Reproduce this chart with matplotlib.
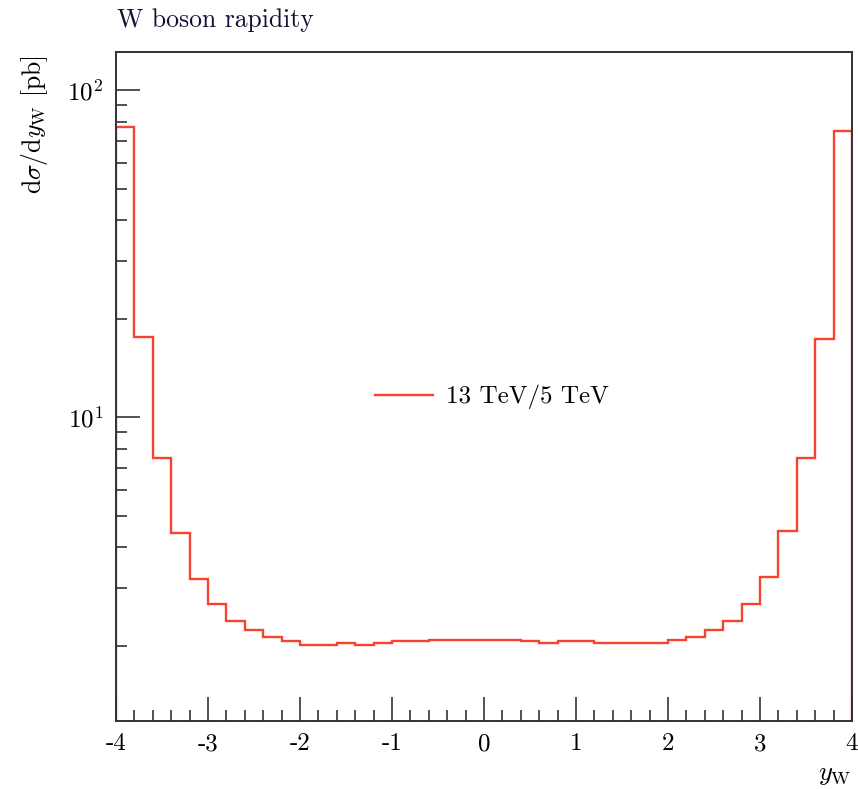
import numpy as np
import matplotlib
matplotlib.use('Agg')
import matplotlib.pyplot as plt
from matplotlib.ticker import FixedLocator, LogLocator, NullFormatter

plt.rcParams['font.family'] = 'serif'
plt.rcParams['font.serif'] = ['cmr10', 'DejaVu Serif']
plt.rcParams['mathtext.fontset'] = 'cm'
plt.rcParams['axes.unicode_minus'] = False
plt.rcParams['axes.formatter.use_mathtext'] = True

# W rapidity ratio, 40 bins of 0.2 from -4 to 4
bin_edges = np.round(np.arange(-4.0, 4.0001, 0.2), 1)
ratio = [77.0, 17.6, 7.5, 4.43, 3.21, 2.68, 2.38, 2.23, 2.12, 2.07,
         2.01, 2.01, 2.04, 2.01, 2.04, 2.07, 2.07, 2.09, 2.09, 2.09,
         2.09, 2.09, 2.07, 2.04, 2.07, 2.07, 2.04, 2.04, 2.04, 2.04,
         2.09, 2.12, 2.23, 2.38, 2.68, 3.25, 4.48, 7.5, 17.4, 75.0]
xticks = [-4, -3, -2, -1, 0, 1, 2, 3, 4]
xtick_labels = ['-4', '-3', '-2', '-1', '0', '1', '2', '3', '4']

fig = plt.figure(figsize=(8.58, 7.89), dpi=100)
ax = fig.add_axes([0.1352, 0.0866, 0.8578, 0.8475])

ax.stairs(ratio, bin_edges, color='#f4442e', lw=1.7, label='13 TeV/5 TeV')

ax.set_yscale('log')
ax.set_xlim(-4, 4)
ax.set_ylim(1.18, 131)

ax.xaxis.set_major_locator(FixedLocator(xticks))
ax.set_xticklabels(xtick_labels)
ax.xaxis.set_minor_locator(FixedLocator(np.arange(-4, 4.001, 0.2)))
ax.yaxis.set_major_locator(LogLocator(base=10, numticks=10))
ax.yaxis.set_minor_locator(LogLocator(base=10, subs=np.arange(2, 10), numticks=10))
ax.yaxis.set_minor_formatter(NullFormatter())

ax.tick_params(which='both', direction='in', top=False, right=False,
               labelsize=18, width=1.1, color='#222222')
ax.tick_params(which='major', length=17, pad=9)
ax.tick_params(which='minor', length=8)
for s in ax.spines.values():
    s.set_linewidth(1.4)
    s.set_color('#333333')

fig.text(117 / 858, 1 - 20 / 789, 'W boson rapidity', fontsize=18.5,
         ha='left', va='center', color='#111133')
fig.text(35 / 858, 1 - 55 / 789, r'd$\sigma$/d$y_{\mathrm{W}}$ [pb]',
         fontsize=18.5, rotation=90, ha='center', va='top')
fig.text(852 / 858, 1 - 775 / 789, r'$y_{\mathrm{W}}$', fontsize=19,
         ha='right', va='center')

ax.legend(loc='center left', bbox_to_anchor=(0.352, 0.484), frameon=False,
          fontsize=18, handlelength=2.3, handletextpad=0.55,
          borderpad=0, borderaxespad=0)

fig.savefig('out.png', dpi=100)
